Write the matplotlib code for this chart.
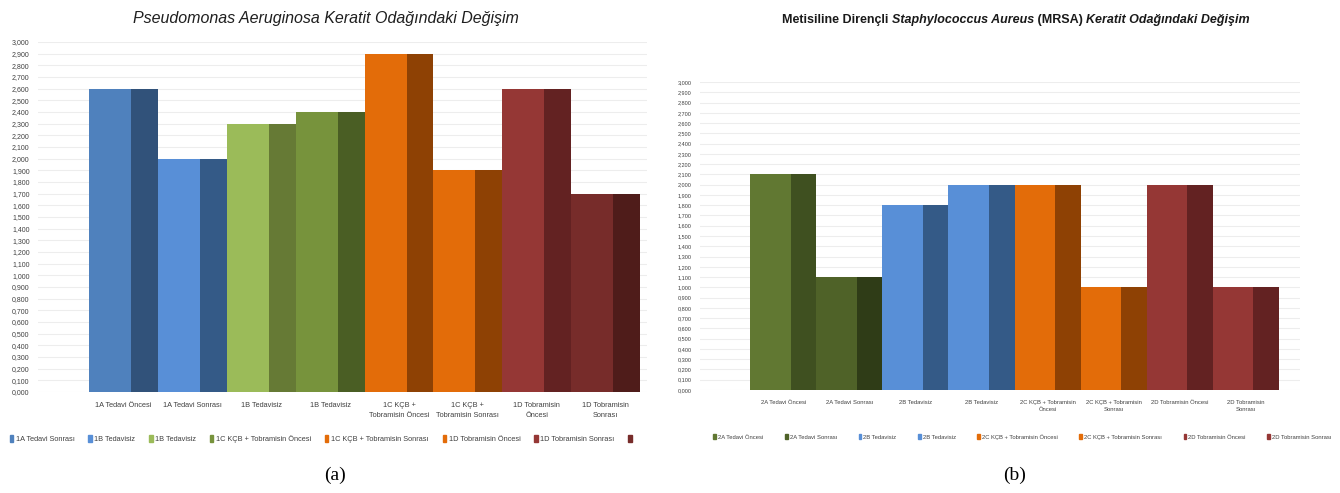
import matplotlib
matplotlib.use("Agg")
import matplotlib.pyplot as plt
import numpy as np
from matplotlib.patches import Patch
from matplotlib.ticker import FuncFormatter, MultipleLocator

plt.rcParams['font.family'] = ['Liberation Sans', 'DejaVu Sans']

# ---- data: panel (a) ----
labels_a = ["1A Tedavi Öncesi", "1A Tedavi Sonrası", "1B Tedavisiz", "1B Tedavisiz",
            "1C KÇB +\nTobramisin Öncesi", "1C KÇB +\nTobramisin Sonrası",
            "1D Tobramisin\nÖncesi", "1D Tobramisin\nSonrası"]
values_a = [2.6, 2.0, 2.3, 2.4, 2.9, 1.9, 2.6, 1.7]
front_a = ["#4F81BD", "#588FD7", "#9BBB59", "#77933C", "#E36C09", "#E36C09", "#953735", "#772C2A"]
side_a = ["#31527A", "#345A87", "#667A35", "#4A5E24", "#8E4104", "#8E4104", "#632222", "#4F1C1A"]
legend_a = ["1A Tedavi Sonrası", "1B Tedavisiz", "1B Tedavisiz", "1C KÇB + Tobramisin Öncesi",
            "1C KÇB + Tobramisin Sonrası", "1D Tobramisin Öncesi", "1D Tobramisin Sonrası", ""]
legend_colors_a = ["#4F81BD", "#588FD7", "#9BBB59", "#77933C", "#E36C09", "#E36C09", "#953735", "#772C2A"]

# ---- data: panel (b) ----
labels_b = ["2A Tedavi Öncesi", "2A Tedavi Sonrası", "2B Tedavisiz", "2B Tedavisiz",
            "2C KÇB + Tobramisin\nÖncesi", "2C KÇB + Tobramisin\nSonrası",
            "2D Tobramisin Öncesi", "2D Tobramisin\nSonrası"]
values_b = [2.1, 1.1, 1.8, 2.0, 2.0, 1.0, 2.0, 1.0]
front_b = ["#617832", "#4F6228", "#588FD7", "#588FD7", "#E36C09", "#E36C09", "#953735", "#953735"]
side_b = ["#3F5020", "#2F3C17", "#345A87", "#345A87", "#8E4104", "#8E4104", "#632222", "#632222"]
legend_b = ["2A Tedavi Öncesi", "2A Tedavi Sonrası", "2B Tedavisiz", "2B Tedavisiz",
            "2C KÇB + Tobramisin Öncesi", "2C KÇB + Tobramisin Sonrası",
            "2D Tobramisin Öncesi", "2D Tobramisin Sonrası"]
legend_colors_b = ["#617832", "#4F6228", "#588FD7", "#588FD7", "#E36C09", "#E36C09", "#953735", "#953735"]

W, H = 1340, 493
fig = plt.figure(figsize=(W / 100, H / 100), dpi=100)


def px_axes(x0, y0, x1, y1):
    # pixel box (top-left origin) -> figure axes
    return fig.add_axes([x0 / W, 1 - y1 / H, (x1 - x0) / W, (y1 - y0) / H])


def draw_panel(ax, labels, values, front, side, xlim, tick_fs, label_fs):
    x = np.arange(len(values))
    ax.bar(x, values, width=0.61, align='edge', color=front, linewidth=0)
    ax.bar(x + 0.61, values, width=0.39, align='edge', color=side, linewidth=0)
    ax.set_xlim(*xlim)
    ax.set_ylim(0, 3.0)
    ax.yaxis.set_major_locator(MultipleLocator(0.1))
    ax.yaxis.set_major_formatter(FuncFormatter(lambda v, p: f"{v:.3f}".replace('.', ',')))
    ax.set_xticks(x + 0.5)
    ax.set_xticklabels(labels, fontsize=label_fs, color="#404040", linespacing=1.6)
    ax.tick_params(axis='both', length=0)
    ax.tick_params(axis='y', labelsize=tick_fs, labelcolor="#404040", pad=6)
    ax.tick_params(axis='x', pad=7)
    ax.grid(axis='y', color="#EDEDED", linewidth=0.8)
    ax.set_axisbelow(True)
    for s in ax.spines.values():
        s.set_visible(False)


ax1 = px_axes(38, 42, 647, 392)
draw_panel(ax1, labels_a, values_a, front_a, side_a, (-0.74, 8.1), 5.0, 5.3)
ax2 = px_axes(700, 82, 1300, 390)
draw_panel(ax2, labels_b, values_b, front_b, side_b, (-0.76, 8.32), 4.0, 4.2)

# legends
h_a = [Patch(color=c) for c in legend_colors_a]
fig.legend(h_a, legend_a, loc='center left', bbox_to_anchor=(3 / W, 1 - 439 / H), ncol=8,
           frameon=False, fontsize=5.3, handlelength=0.45, handleheight=1.0, handletextpad=0.35,
           columnspacing=1.9, labelcolor="#404040")
h_b = [Patch(color=c) for c in legend_colors_b]
fig.legend(h_b, legend_b, loc='center left', bbox_to_anchor=(708 / W, 1 - 437 / H), ncol=8,
           frameon=False, fontsize=4.2, handlelength=0.45, handleheight=1.0, handletextpad=0.35,
           columnspacing=3.7, labelcolor="#404040")

# titles
fig.text(326 / W, 1 - 18 / H, "Pseudomonas Aeruginosa Keratit Odağındaki Değişim",
         ha='center', va='center', fontsize=11.5, style='italic', color="#1f1f1f")

pieces = [("Metisiline Dirençli ", 'normal'), ("Staphylococcus Aureus", 'italic'),
          (" (MRSA) ", 'normal'), ("Keratit Odağındaki Değişim", 'italic')]
fig.canvas.draw()
renderer = fig.canvas.get_renderer()
texts = []
for s, st in pieces:
    t = fig.text(0, 1 - 20 / H, s, ha='left', va='center', fontsize=9, style=st,
                 fontweight='bold', color="#1a1a1a")
    texts.append(t)
widths = [t.get_window_extent(renderer).width for t in texts]
xpos = 1016 - sum(widths) / 2
for t, w in zip(texts, widths):
    t.set_x(xpos / W)
    xpos += w

# captions
fig.text(335 / W, 1 - 475 / H, "(a)", ha='center', va='center', fontsize=14,
         family='Liberation Serif')
fig.text(1015 / W, 1 - 475 / H, "(b)", ha='center', va='center', fontsize=14,
         family='Liberation Serif')

fig.savefig("out.png", dpi=100, facecolor='white')
